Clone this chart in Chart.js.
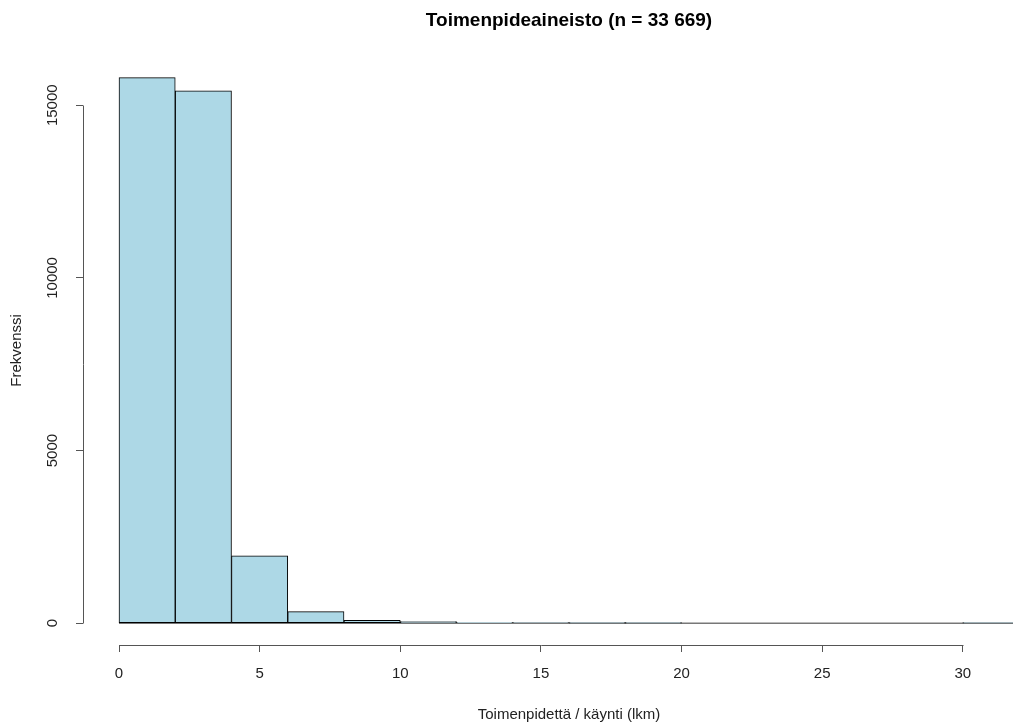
<!DOCTYPE html>
<html>
<head>
<meta charset="utf-8">
<script src="https://cdn.jsdelivr.net/npm/chart.js@4"></script>
<style>
    html, body { margin: 0; padding: 0; background: #fff; overflow: hidden; }
    #wrap { width: 1097px; height: 727px; position: relative; }
</style>
</head>
<body>
<div id="wrap"><canvas id="hist"></canvas></div>
<script>
// histogram bins (width 2) and their counts
const binEdges = [0, 2, 4, 6, 8, 10, 12, 14, 16, 18, 20, 22, 24, 26, 28, 30, 32];
const counts = [15800, 15420, 1948, 336, 85, 45, 20, 12, 1, 1, 0, 0, 0, 0, 0, 1];
const xTicks = [0, 5, 10, 15, 20, 25, 30];
const yTicks = [0, 5000, 10000, 15000];

const titleText = "Toimenpideaineisto (n = 33 669)";
const xTitle = "Toimenpidettä / käynti (lkm)";
const yTitle = "Frekvenssi";

var barData = counts.map(function (c, i) {
    return { x: (binEdges[i] + binEdges[i + 1]) / 2, y: c };
});
var baseLine = [
    { x: binEdges[0], y: 0 },
    { x: binEdges[binEdges.length - 1], y: 0 },
];

var fontFamily = "'Liberation Sans', Arial, sans-serif";

// R-style axes: line only spans first..last tick
const axisLines = {
    id: "axisLines",
    afterDraw: function (chart) {
        var ctx = chart.ctx;
        var area = chart.chartArea;
        var xs = chart.scales.x;
        var ys = chart.scales.y;
        ctx.save();
        ctx.strokeStyle = "#555";
        ctx.lineWidth = 1;
        ctx.beginPath();
        var by = Math.round(area.bottom) + 0.5;
        ctx.moveTo(Math.round(xs.getPixelForValue(xTicks[0])) + 0.5, by);
        ctx.lineTo(Math.round(xs.getPixelForValue(xTicks[xTicks.length - 1])) + 0.5, by);
        var lx = Math.round(area.left) + 0.5;
        ctx.moveTo(lx, Math.round(ys.getPixelForValue(yTicks[0])) + 0.5);
        ctx.lineTo(lx, Math.round(ys.getPixelForValue(yTicks[yTicks.length - 1])) + 0.5);
        ctx.stroke();
        ctx.restore();
    },
};

var ctx = document.getElementById("hist").getContext("2d");
var myChart = new Chart(ctx, {
    data: {
        datasets: [
            {
                type: "line",
                data: baseLine,
                borderColor: "#333",
                borderWidth: 1,
                pointRadius: 0,
                order: 2,
            },
            {
                type: "bar",
                data: barData,
                backgroundColor: "#ADD8E6",
                borderColor: "#000",
                borderWidth: 1,
                borderSkipped: false,
                barPercentage: 1,
                categoryPercentage: 1,
                grouped: false,
                order: 1,
            },
        ],
    },
    options: {
        responsive: true,
        maintainAspectRatio: false,
        animation: false,
        layout: { padding: { top: 0, right: 42, bottom: 0, left: 0 } },
        plugins: {
            legend: { display: false },
            tooltip: { enabled: false },
            title: {
                display: true,
                text: titleText,
                fullSize: false,
                color: "#000",
                font: { family: fontFamily, size: 19, weight: "bold" },
                padding: { top: 9, bottom: 24 },
            },
        },
        scales: {
            x: {
                type: "linear",
                min: -1.28,
                max: 33.28,
                offset: false,
                border: { display: false },
                grid: { offset: false, drawOnChartArea: false, drawTicks: true, tickLength: 7, color: "#555" },
                afterBuildTicks: function (scale) {
                    scale.ticks = xTicks.map(function (v) { return { value: v }; });
                },
                ticks: {
                    color: "#222",
                    padding: 13,
                    maxRotation: 0,
                    autoSkip: false,
                    callback: function (v) { return String(v); },
                    font: { family: fontFamily, size: 15 },
                },
                title: {
                    display: true,
                    text: xTitle,
                    color: "#222",
                    font: { family: fontFamily, size: 15 },
                    padding: { top: 0, bottom: 3 },
                },
                afterFit: function (scale) { scale.height = 82; },
            },
            y: {
                type: "linear",
                min: -632,
                max: 16432,
                border: { display: false },
                grid: { drawOnChartArea: false, drawTicks: true, tickLength: 7, color: "#555" },
                afterBuildTicks: function (scale) {
                    scale.ticks = yTicks.map(function (v) { return { value: v }; });
                },
                ticks: {
                    color: "#222",
                    padding: 2,
                    minRotation: 90,
                    maxRotation: 90,
                    crossAlign: "center",
                    autoSkip: false,
                    callback: function (v) { return String(v); },
                    font: { family: fontFamily, size: 15 },
                },
                title: {
                    display: true,
                    text: yTitle,
                    color: "#222",
                    font: { family: fontFamily, size: 15 },
                    padding: { top: 8, bottom: 0 },
                },
                afterFit: function (scale) { scale.width = 83; },
            },
        },
    },
    plugins: [axisLines],
});
</script>
</body>
</html>
